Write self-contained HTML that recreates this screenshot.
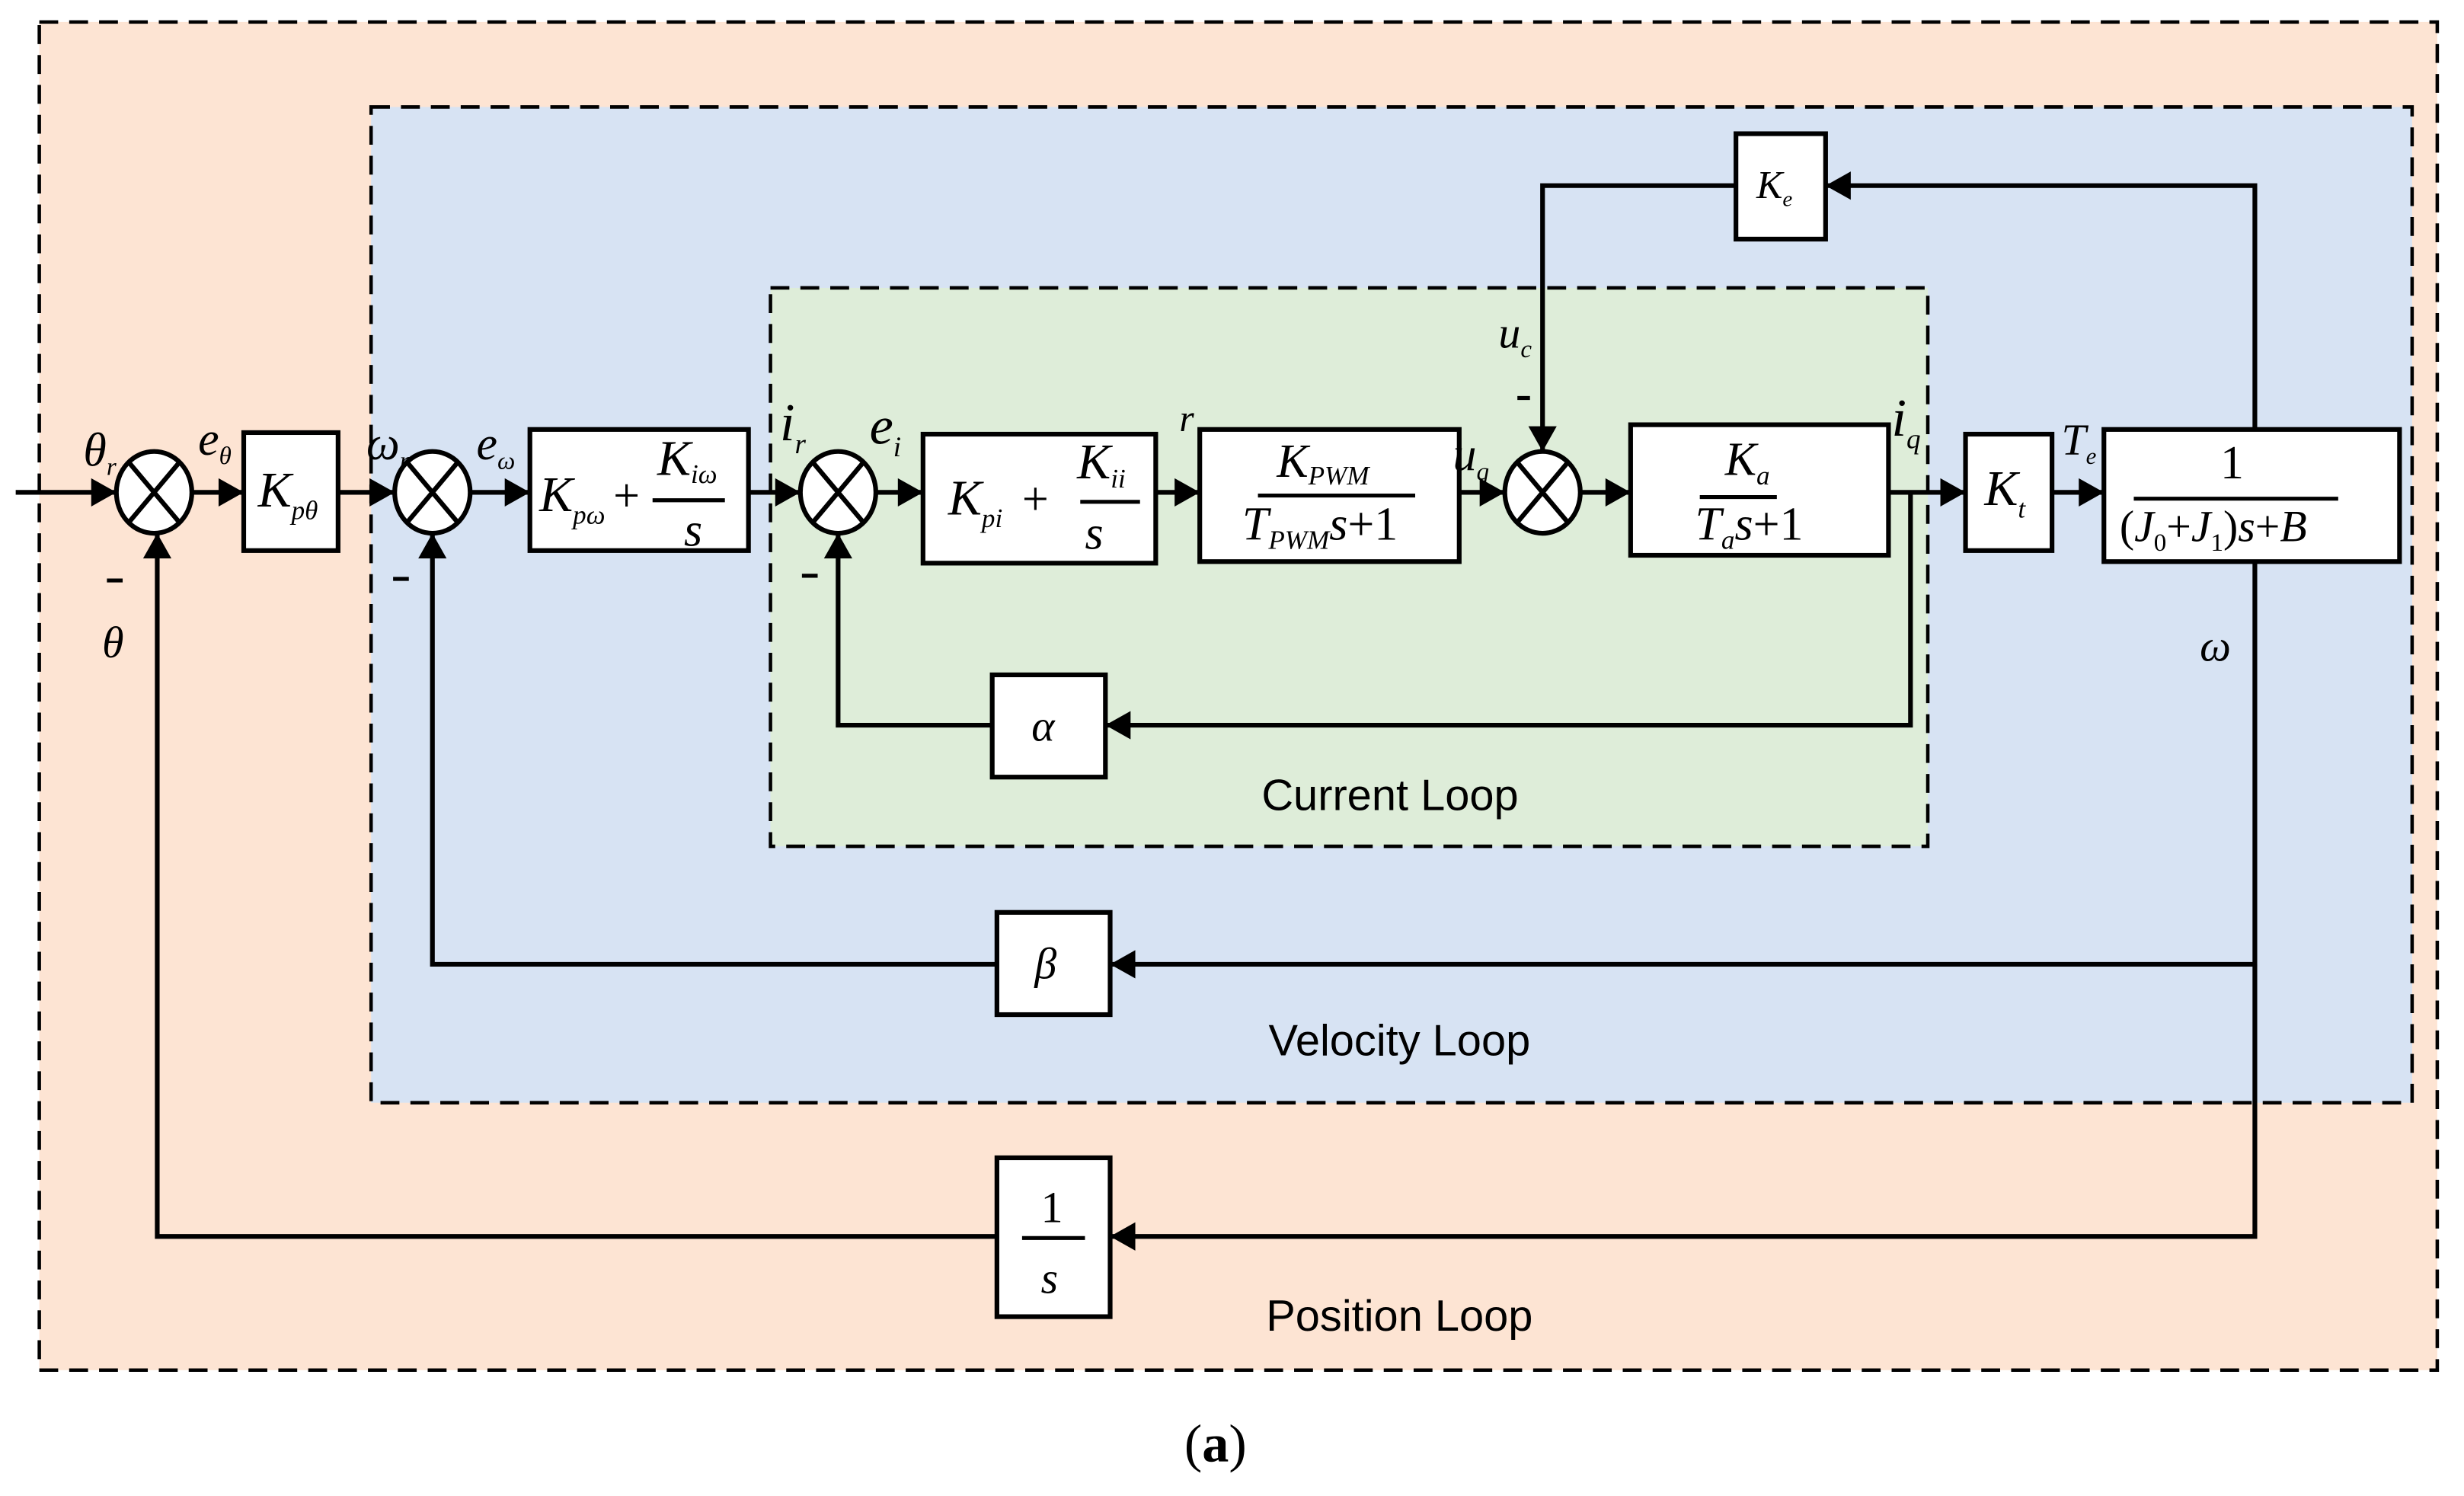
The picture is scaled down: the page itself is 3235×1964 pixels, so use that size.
<!DOCTYPE html>
<html><head><meta charset="utf-8"><style>
html,body{margin:0;padding:0;background:#fff;}
svg{display:block;}
.m{font-family:"Liberation Serif",serif;font-style:italic;fill:#000;}
.n{font-family:"Liberation Serif",serif;fill:#000;}
.l{font-family:"Liberation Sans",sans-serif;fill:#000;font-size:28px;}
</style></head><body>
<svg width="3235" height="1964" viewBox="0 0 1567 951" preserveAspectRatio="none" xmlns="http://www.w3.org/2000/svg">
<g stroke="#000" stroke-width="2.2" stroke-dasharray="12,7">
<rect x="25" y="14" width="1525" height="857" fill="#FDE4D3"/>
<rect x="236" y="68" width="1298" height="633" fill="#D7E3F3"/>
<rect x="490" y="183" width="736" height="355" fill="#DEEDD9"/>
</g>
<g stroke="#000" stroke-width="3" fill="none">
<path d="M10,313H74"/>
<path d="M122,313H155"/><path d="M215,313H251"/><path d="M299,313H337"/>
<path d="M476,313H509"/><path d="M557,313H587"/><path d="M735,313H763"/>
<path d="M928,313H957"/><path d="M1005,313H1037"/><path d="M1201,313H1250"/>
<path d="M1305,313H1338"/>
<path d="M1434,273V118H1161"/><path d="M1104,118H981V287"/>
<path d="M1215,313V461H703"/><path d="M631,461H533V339"/>
<path d="M1434,357V613H706"/><path d="M634,613H275V339"/>
<path d="M1434,613V786H706"/><path d="M634,786H100V339"/>
</g>
<g fill="#000">
<path d="M58,304L74,313L58,322z"/><path d="M139,304L155,313L139,322z"/>
<path d="M235,304L251,313L235,322z"/><path d="M321,304L337,313L321,322z"/>
<path d="M493,304L509,313L493,322z"/><path d="M571,304L587,313L571,322z"/>
<path d="M747,304L763,313L747,322z"/><path d="M941,304L957,313L941,322z"/>
<path d="M1021,304L1037,313L1021,322z"/><path d="M1234,304L1250,313L1234,322z"/>
<path d="M1322,304L1338,313L1322,322z"/>
<path d="M972,271L981,287L990,271z"/>
<path d="M1177,109L1161,118L1177,127z"/>
<path d="M719,452L703,461L719,470z"/>
<path d="M722,604L706,613L722,622z"/>
<path d="M722,777L706,786L722,795z"/>
<path d="M91,355L100,339L109,355z"/><path d="M266,355L275,339L284,355z"/><path d="M524,355L533,339L542,355z"/>
</g>
<g stroke="#000" stroke-width="3" fill="#fff">
<ellipse cx="98" cy="313" rx="24" ry="26"/><ellipse cx="275" cy="313" rx="24" ry="26"/>
<ellipse cx="533" cy="313" rx="24" ry="26"/><ellipse cx="981" cy="313" rx="24" ry="26"/>
</g>
<g stroke="#000" stroke-width="3">
<path d="M82,294L114,332M114,294L82,332"/><path d="M259,294L291,332M291,294L259,332"/>
<path d="M517,294L549,332M549,294L517,332"/><path d="M965,294L997,332M997,294L965,332"/>
</g>
<g stroke="#000" stroke-width="3" fill="#fff">
<rect x="155" y="275" width="60" height="75"/>
<rect x="337" y="273" width="139" height="77"/>
<rect x="587" y="276" width="148" height="82"/>
<rect x="763" y="273" width="165" height="84"/>
<rect x="1037" y="270" width="164" height="83"/>
<rect x="1250" y="276" width="55" height="74"/>
<rect x="1338" y="273" width="188" height="84"/>
<rect x="1104" y="85" width="57" height="67"/>
<rect x="631" y="429" width="72" height="65"/>
<rect x="634" y="580" width="72" height="65"/>
<rect x="634" y="736" width="72" height="101"/>
</g>
<g stroke="#000" stroke-width="2.5">
<path d="M415,318H461"/><path d="M687,319H725"/><path d="M800,315H900"/>
<path d="M1081,316H1130"/><path d="M1357,317H1487"/><path d="M650,787H690"/>
</g>
<text class="m" x="164" y="322" font-size="32">K<tspan font-size="17" dy="8">pθ</tspan></text>
<text class="m" x="343" y="325" font-size="32">K<tspan font-size="17" dy="8">pω</tspan></text>
<text class="n" x="390" y="325" font-size="30">+</text>
<text class="m" x="418" y="302" font-size="32">K<tspan font-size="17" dy="5">iω</tspan></text>
<text class="m" x="435" y="347" font-size="30">s</text>
<text class="m" x="603" y="327" font-size="32">K<tspan font-size="17" dy="8">pi</tspan></text>
<text class="n" x="650" y="327" font-size="30">+</text>
<text class="m" x="685" y="304" font-size="32">K<tspan font-size="17" dy="6">ii</tspan></text>
<text class="m" x="690" y="349" font-size="30">s</text>
<text class="m" x="812" y="303" font-size="30">K<tspan font-size="17" dy="5">PWM</tspan></text>
<text class="m" x="790" y="343" font-size="30">T<tspan font-size="17" dy="6">PWM</tspan><tspan dy="-6">s</tspan><tspan font-style="normal">+1</tspan></text>
<text class="m" x="1097" y="302" font-size="30">K<tspan font-size="17" dy="6">a</tspan></text>
<text class="m" x="1078" y="343" font-size="30">T<tspan font-size="17" dy="6">a</tspan><tspan dy="-6">s</tspan><tspan font-style="normal">+1</tspan></text>
<text class="m" x="1262" y="321" font-size="32">K<tspan font-size="17" dy="8">t</tspan></text>
<text class="n" x="1412" y="304" font-size="30">1</text>
<text class="m" x="1348" y="344" font-size="28"><tspan font-style="normal">(</tspan>J<tspan font-size="16" dy="6" font-style="normal">0</tspan><tspan dy="-6" font-style="normal">+</tspan>J<tspan font-size="16" dy="6" font-style="normal">1</tspan><tspan dy="-6" font-style="normal">)</tspan>s<tspan font-style="normal">+</tspan>B</text>
<text class="m" x="1117" y="126" font-size="25">K<tspan font-size="14" dy="5">e</tspan></text>
<text class="m" x="656" y="471" font-size="28">α</text>
<text class="m" x="658" y="622" font-size="28">β</text>
<text class="n" x="662" y="777" font-size="28">1</text>
<text class="m" x="662" y="822" font-size="28">s</text>
<text class="m" x="53" y="296" font-size="30">θ<tspan font-size="16" dy="6">r</tspan></text>
<text class="m" x="126" y="289" font-size="30">e<tspan font-size="16" dy="6">θ</tspan></text>
<text class="m" x="233" y="292" font-size="30">ω<tspan font-size="16" dy="6">r</tspan></text>
<text class="m" x="303" y="292" font-size="30">e<tspan font-size="16" dy="6">ω</tspan></text>
<text class="m" x="496" y="280" font-size="34">i<tspan font-size="18" dy="8">r</tspan></text>
<text class="m" x="553" y="282" font-size="34">e<tspan font-size="18" dy="8">i</tspan></text>
<text class="m" x="750" y="274" font-size="24">r</text>
<text class="m" x="924" y="299" font-size="30">u<tspan font-size="16" dy="6">q</tspan></text>
<text class="m" x="953" y="221" font-size="28">u<tspan font-size="16" dy="6">c</tspan></text>
<text class="m" x="1203" y="277" font-size="34">i<tspan font-size="18" dy="8">q</tspan></text>
<text class="m" x="1311" y="289" font-size="28">T<tspan font-size="15" dy="6">e</tspan></text>
<text class="m" x="1399" y="420" font-size="28">ω</text>
<text class="m" x="65" y="418" font-size="28">θ</text>
<g stroke="#000" stroke-width="2.5">
<path d="M68,369H78"/><path d="M250,368H260"/><path d="M510,366H520"/><path d="M965,253H973"/>
</g>
<text class="l" x="884" y="515" text-anchor="middle">Current Loop</text>
<text class="l" x="890" y="671" text-anchor="middle">Velocity Loop</text>
<text class="l" x="890" y="846" text-anchor="middle">Position Loop</text>
<text class="n" x="773" y="929" font-size="34" text-anchor="middle">(<tspan font-weight="bold">a</tspan>)</text>
</svg>
</body></html>
